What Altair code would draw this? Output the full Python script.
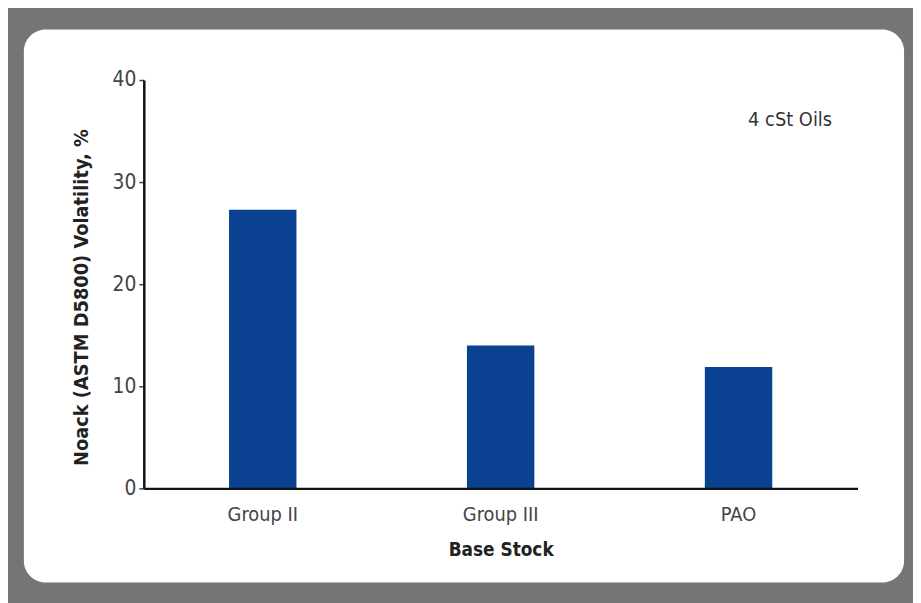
import altair as alt
import pandas as pd

categories = ["Group II", "Group III", "PAO"]
values = [27.3, 14.0, 11.9]
annotation = "4 cSt Oils"

df = pd.DataFrame({"stock": categories, "vol": values})

FONT = "'Liberation Sans Narrow', 'DejaVu Sans Condensed', 'Liberation Sans', sans-serif"
BAR = "#0a4191"

W, H = 720, 412

panel = alt.Chart(pd.DataFrame({"a": [0]})).mark_rect(
    color="white", cornerRadius=22
).encode(
    x=alt.value(-121), x2=alt.value(767), y=alt.value(-51), y2=alt.value(507)
)

bars = alt.Chart(df).mark_bar(color=BAR, size=68).encode(
    x=alt.X("stock:N", sort=categories, title="Base Stock",
            scale=alt.Scale(paddingInner=0, paddingOuter=0),
            axis=alt.Axis(labelAngle=0, domainColor="#111", domainWidth=2.5,
                          ticks=False, labelPadding=16, titlePadding=17,
                          labelFontSize=20, titleFontSize=19, labelColor="#444",
                          titleColor="#222", labelFont=FONT, titleFont=FONT,
                          titleFontWeight="bold", zindex=1)),
    y=alt.Y("vol:Q", title="Noack (ASTM D5800) Volatility, %",
            scale=alt.Scale(domain=[0, 40], nice=False),
            axis=alt.Axis(values=[0, 10, 20, 30, 40], grid=False,
                          domainColor="#111", domainWidth=2.5, tickColor="#444",
                          tickSize=5, tickWidth=1.5, labelPadding=3,
                          labelFontSize=21, titleFontSize=20, labelColor="#444",
                          titleColor="#222", labelFont=FONT, titleFont=FONT,
                          titleFontWeight="bold", titlePadding=21,
                          titleY=219, zindex=1)),
)

note = alt.Chart(pd.DataFrame({"t": [annotation]})).mark_text(
    font=FONT, fontSize=20, color="#333"
).encode(x=alt.value(652), y=alt.value(40), text="t:N")

chart = alt.layer(panel, bars, note).properties(
    width=W, height=H,
    background="#757575",
    padding={"left": 137, "top": 70, "right": 56, "bottom": 113},
    autosize=alt.AutoSizeParams(type="none"),
).configure_view(stroke=None)

chart.save("out.html", embed_options={"renderer": "svg", "actions": False})
